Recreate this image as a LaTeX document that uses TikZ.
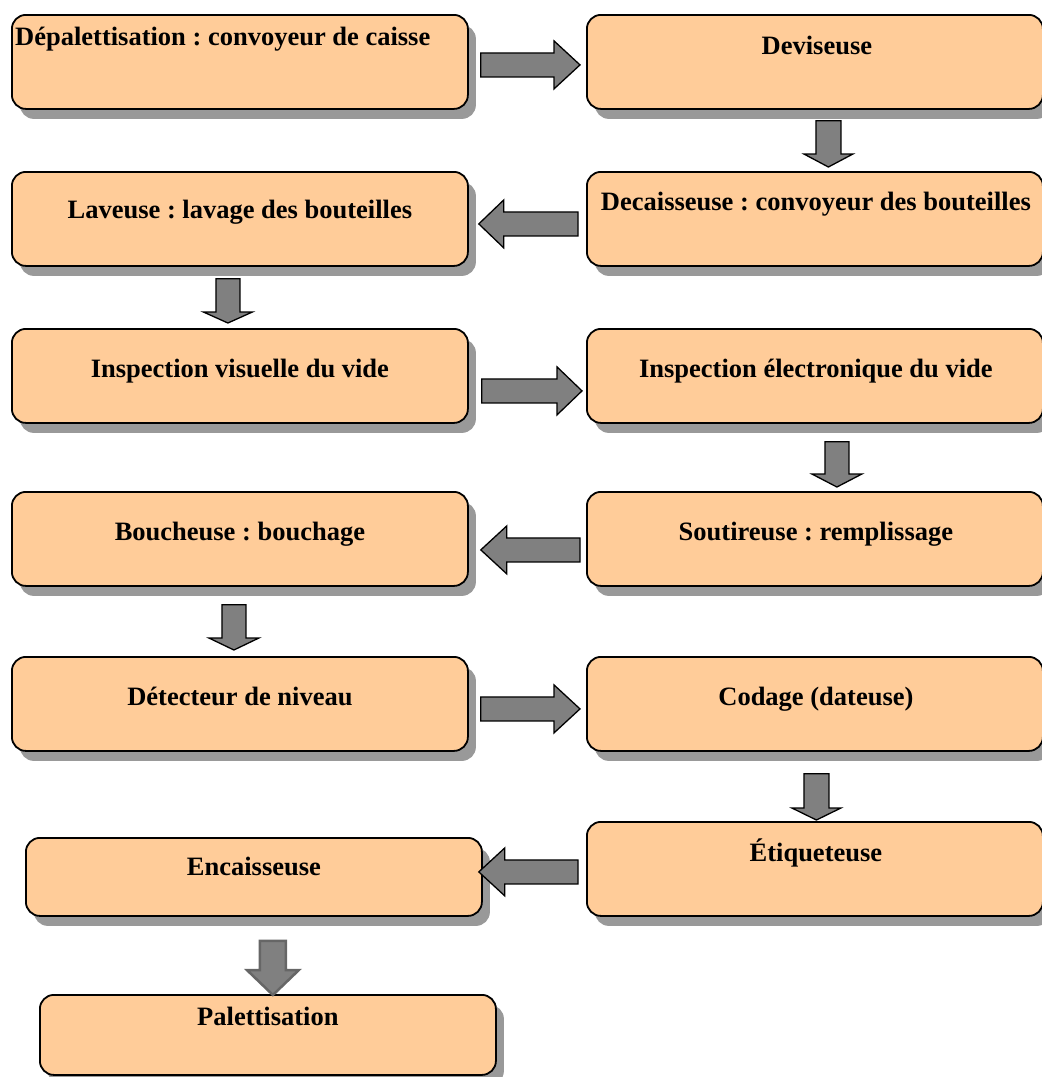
\documentclass[tikz,border=0pt]{standalone}
\usepackage{fontspec}
\setmainfont{Liberation Serif}
\frenchspacing
\usetikzlibrary{calc,shadows}
\definecolor{peach}{HTML}{FFCC99}
\definecolor{arrowgray}{HTML}{808080}
\definecolor{shadowgray}{HTML}{999999}
\tikzset{
  box/.style={draw=black, line width=1.8pt, rounded corners=14pt, fill=peach,
    minimum width=456pt, minimum height=94pt, anchor=north west, inner sep=0pt,
    drop shadow={shadow xshift=8pt, shadow yshift=-10pt, fill=shadowgray, opacity=1}},
  lbl/.style={inner sep=0pt, font=\fontsize{26.5}{30}\selectfont\bfseries},
  blockarrow/.style={draw=black, line width=1.3pt, fill=arrowgray, line join=miter},
}
% horizontal block arrow: start, tip, body half, head half, head length
\newcommand\harr[6][]{%
  \draw[blockarrow,#1] let \p1=(#2), \p2=(#3), \p3=($(\p2)!#6pt!(\p1)$) in
    (\x1,\y1+#4pt) -- (\x3,\y1+#4pt) -- (\x3,\y1+#5pt) -- (\x2,\y1)
    -- (\x3,\y1-#5pt) -- (\x3,\y1-#4pt) -- (\x1,\y1-#4pt) -- cycle;}
% vertical block arrow
\newcommand\varr[6][]{%
  \draw[blockarrow,#1] let \p1=(#2), \p2=(#3), \p3=($(\p2)!#6pt!(\p1)$) in
    (\x1-#4pt,\y1) -- (\x1-#4pt,\y3) -- (\x1-#5pt,\y3) -- (\x1,\y2)
    -- (\x1+#5pt,\y3) -- (\x1+#4pt,\y3) -- (\x1+#4pt,\y1) -- cycle;}
\begin{document}
\begin{tikzpicture}[x=1pt,y=-1pt]
\useasboundingbox (0,0) rectangle (1042,1077);
% boxes
\node[box] (b1) at (11,14) {};
\node[box] (b2) at (586,14) {};
\node[box] (b3) at (11,171) {};
\node[box] (b4) at (586,171) {};
\node[box] (b5) at (11,328) {};
\node[box] (b6) at (586,328) {};
\node[box] (b7) at (11,491) {};
\node[box] (b8) at (586,491) {};
\node[box] (b9) at (11,656) {};
\node[box] (b10) at (586,656) {};
\node[box, minimum height=78pt] (b11) at (25,837) {};
\node[box] (b12) at (586,821) {};
\node[box, minimum height=80pt] (b13) at (39,994) {};
% labels
\node[lbl, anchor=base west] (t1) at ($(b1.north west)+(4,31)$) {Dépalettisation : convoyeur de caisse};
\node[lbl, anchor=base] (t2) at ($(b2.north)+(2,40)$) {Deviseuse};
\node[lbl, anchor=base] (t3) at ($(b3.north)+(0,47)$) {Laveuse : lavage des bouteilles};
\node[lbl, anchor=base] (t4) at ($(b4.north)+(1,39)$) {Decaisseuse : convoyeur des bouteilles};
\node[lbl, anchor=base] (t5) at ($(b5.north)+(0,49)$) {Inspection visuelle du vide};
\node[lbl, anchor=base] (t6) at ($(b6.north)+(1,49)$) {Inspection électronique du vide};
\node[lbl, anchor=base] (t7) at ($(b7.north)+(0,49)$) {Boucheuse : bouchage};
\node[lbl, anchor=base] (t8) at ($(b8.north)+(1,49)$) {Soutireuse : remplissage};
\node[lbl, anchor=base] (t9) at ($(b9.north)+(0,49)$) {Détecteur de niveau};
\node[lbl, anchor=base] (t10) at ($(b10.north)+(1,49)$) {Codage (dateuse)};
\node[lbl, anchor=base] (t11) at ($(b11.north)+(0,38)$) {Encaisseuse};
\node[lbl, anchor=base] (t12) at ($(b12.north)+(1,40)$) {Étiqueteuse};
\node[lbl, anchor=base] (t13) at ($(b13.north)+(0,31)$) {Palettisation};
% arrow end points
\coordinate (s12) at ($(b1.east)+(12,3)$);   \coordinate (e12) at ($(b2.west)+(-6,3)$);
\coordinate (s24) at ($(b2.south)+(13.5,11)$); \coordinate (e24) at ($(b4.north)+(13.5,-4)$);
\coordinate (s43) at ($(b4.west)+(-8,5)$);   \coordinate (e43) at ($(b3.east)+(10,5)$);
\coordinate (s35) at ($(b3.south)+(-12,12)$); \coordinate (e35) at ($(b5.north)+(-12,-5)$);
\coordinate (s56) at ($(b5.east)+(13,15)$);  \coordinate (e56) at ($(b6.west)+(-4,15)$);
\coordinate (s68) at ($(b6.south)+(22,18)$); \coordinate (e68) at ($(b8.north)+(22,-4)$);
\coordinate (s87) at ($(b8.west)+(-6,11)$);  \coordinate (e87) at ($(b7.east)+(12,11)$);
\coordinate (s79) at ($(b7.south)+(-6,18)$); \coordinate (e79) at ($(b9.north)+(-6,-6)$);
\coordinate (s910) at ($(b9.east)+(12,5)$);  \coordinate (e910) at ($(b10.west)+(-6,5)$);
\coordinate (s1012) at ($(b10.south)+(1.5,22)$); \coordinate (e1012) at ($(b12.north)+(1.5,-1)$);
\coordinate (s1211) at ($(b12.west)+(-8,3)$); \coordinate (e1211) at ($(b11.east)+(-4,-5)$);
\coordinate (s1113) at ($(b11.south)+(19,24)$); \coordinate (e1113) at ($(b13.north)+(5,1)$);
% arrows
\harr{s12}{e12}{12}{24}{26}
\varr{s24}{e24}{12.5}{24.5}{13}
\harr{s43}{e43}{12}{24}{25}
\varr{s35}{e35}{12}{24.5}{11}
\harr{s56}{e56}{12}{24}{25}
\varr{s68}{e68}{12}{25}{13}
\harr{s87}{e87}{12}{24}{26}
\varr{s79}{e79}{12}{25}{12}
\harr{s910}{e910}{12}{24}{26}
\varr{s1012}{e1012}{12.5}{24.5}{12}
\harr{s1211}{e1211}{12}{24}{26}
\varr[draw=black!60, line width=2.5pt]{s1113}{e1113}{13}{26}{25}
\end{tikzpicture}
\end{document}
